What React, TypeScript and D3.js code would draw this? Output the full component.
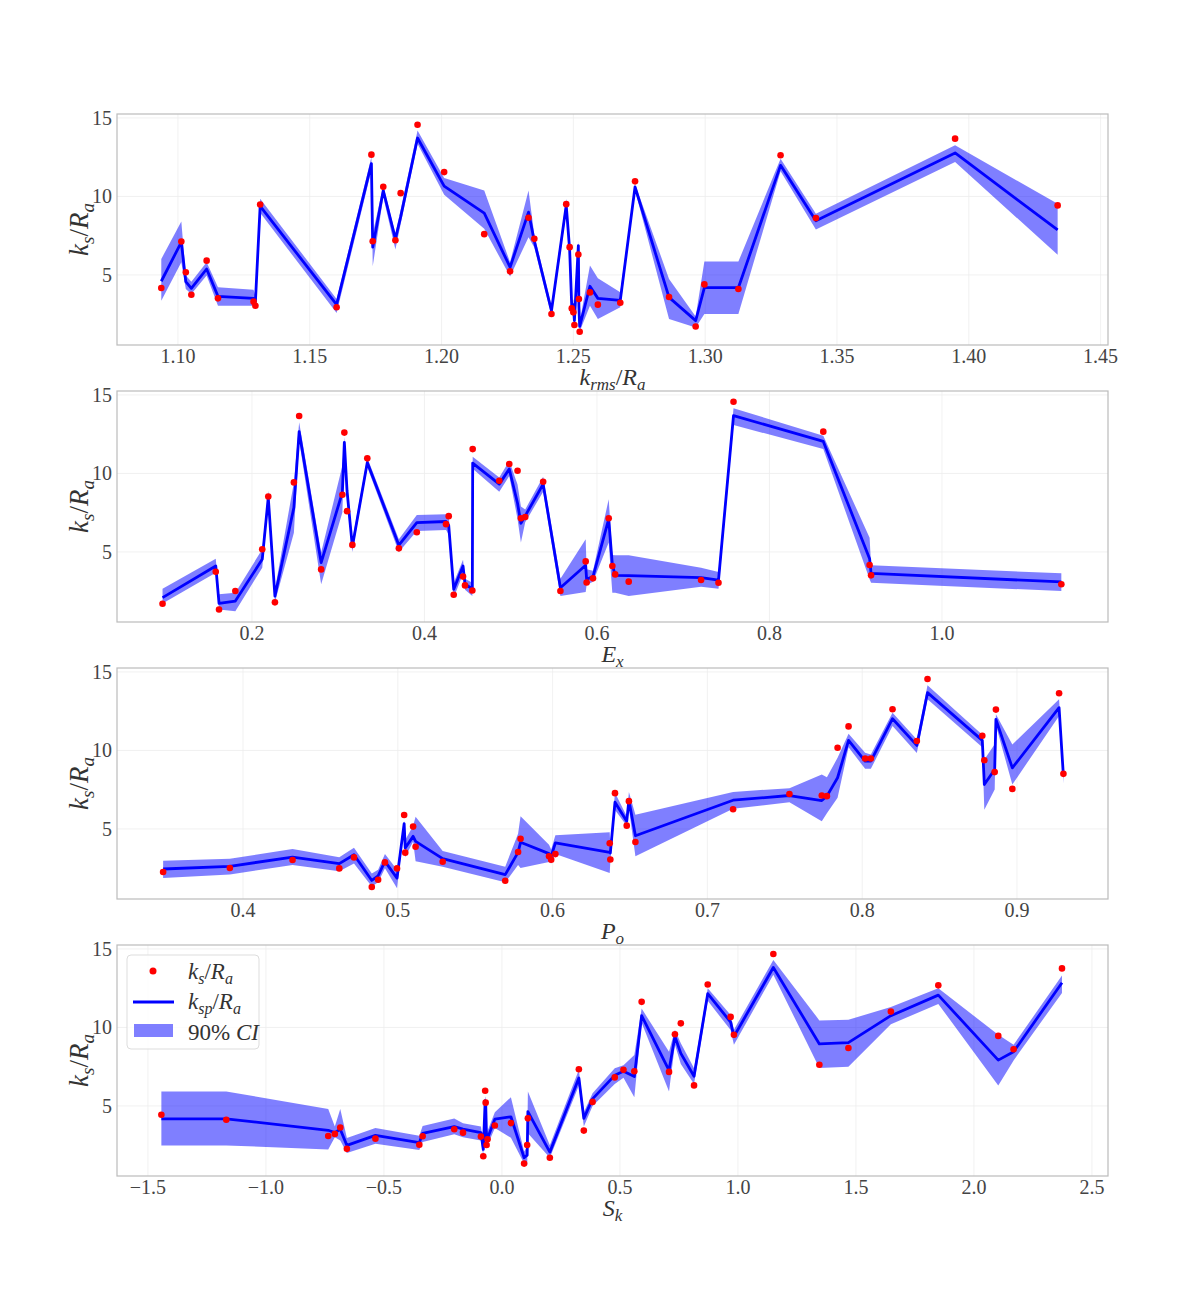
import React from 'react';
import * as d3 from 'd3';

const W = 1196;
const H = 1309;
const LEFT = 117;
const RIGHT = 1108;
const PANEL_TOPS = [114, 391, 668, 945];
const PANEL_H = 231;
const Y_DOMAIN: [number, number] = [0.54, 15.25];
const yTicks = [5, 10, 15];

// ---- Panel 1: k_rms / R_a ----
const krmsX = [1.0937,1.1013,1.1030,1.1051,1.1109,1.1152,1.1287,1.1294,1.1312,1.1602,1.1734,1.1739,1.1779,1.1825,1.1845,1.1909,1.2010,1.2162,1.2260,1.2330,1.2352,1.2417,1.2473,1.2486,1.2494,1.2500,1.2504,1.2519,1.2521,1.2524,1.2563,1.2593,1.2678,1.2734,1.2863,1.2964,1.2997,1.3126,1.3286,1.3420,1.3948,1.4337];
const krmsKs = [4.17,7.13,5.17,3.74,5.91,3.51,3.30,3.04,9.49,2.94,12.66,7.15,10.62,7.21,10.21,14.57,11.55,7.60,5.23,8.64,7.30,2.51,9.51,6.77,2.87,2.62,1.81,6.30,3.47,1.38,3.89,3.11,3.23,10.96,3.60,1.72,4.40,4.11,12.62,8.62,13.68,9.43];
const krmsPred = [4.60,7.09,4.57,4.15,5.38,3.64,3.51,3.30,9.38,3.11,12.09,6.77,10.38,7.30,8.70,13.72,10.66,8.94,5.49,9.00,7.15,2.72,9.43,6.60,2.94,3.10,2.09,6.87,3.04,1.72,4.28,3.51,3.38,10.60,3.57,2.09,4.19,4.19,11.98,8.45,12.77,7.87];
const krmsLo = [3.36,5.81,4.11,3.79,4.96,3.04,3.04,2.83,8.96,2.57,11.66,5.55,9.96,6.62,8.25,13.36,10.11,7.94,4.91,7.40,6.75,2.40,9.00,6.15,2.60,2.75,1.70,6.50,2.70,1.40,3.04,2.19,2.94,10.40,2.19,1.66,2.51,2.51,11.60,7.90,12.20,6.28];
const krmsHi = [6.02,8.40,4.96,4.57,5.81,4.21,4.06,3.64,9.85,3.47,12.51,7.62,10.70,7.62,9.15,14.20,11.17,10.38,5.81,10.38,7.55,3.04,9.85,7.05,3.25,3.45,2.40,7.20,3.40,2.00,5.60,4.79,3.90,10.80,4.74,2.36,5.85,5.85,12.40,8.90,13.26,9.53];
const krmsTicks = [1.10,1.15,1.20,1.25,1.30,1.35,1.40,1.45];

// ---- Panel 2: E_x ----
const exX = [0.0963,0.1580,0.1618,0.1807,0.2119,0.2189,0.2266,0.2486,0.2547,0.2802,0.3048,0.3071,0.3102,0.3164,0.3337,0.3703,0.3911,0.4250,0.4281,0.4339,0.4447,0.4470,0.4555,0.4559,0.4867,0.4983,0.5079,0.5118,0.5168,0.5376,0.5576,0.5869,0.5880,0.5954,0.6136,0.6178,0.6211,0.6368,0.7207,0.7409,0.7583,0.8624,0.9161,0.9178,1.1384];
const exKs = [1.70,3.74,1.34,2.51,5.17,8.53,1.79,9.43,13.66,3.89,8.64,12.60,7.60,5.45,10.96,5.23,6.26,6.77,7.28,2.28,3.43,2.87,2.55,11.55,9.53,10.60,10.17,7.15,7.23,9.47,2.51,4.40,3.06,3.32,7.15,4.11,3.57,3.11,3.21,3.04,14.57,12.66,4.17,3.51,2.94];
const exPred = [2.09,4.11,1.72,1.87,4.53,8.47,2.19,7.83,12.66,4.32,8.79,11.98,8.90,5.34,10.70,5.43,6.87,6.94,6.70,2.62,4.11,2.94,2.66,10.66,9.32,10.28,8.10,6.83,7.30,9.32,2.72,4.15,3.26,3.43,7.09,4.19,3.51,3.49,3.36,3.21,13.68,12.04,4.57,3.64,3.09];
const exLo = [1.72,3.68,1.34,1.23,4.00,8.10,1.79,6.23,12.09,2.94,7.51,11.60,8.40,5.00,10.40,5.00,6.34,6.40,6.10,2.10,3.60,2.60,2.20,10.30,8.83,9.83,7.10,5.60,6.90,8.83,2.19,2.45,2.90,3.10,5.60,2.40,2.40,2.20,2.79,2.66,13.09,11.55,3.26,3.04,2.51];
const exHi = [2.66,4.57,2.30,2.40,5.17,8.90,2.60,9.43,13.26,4.96,10.49,12.30,9.40,5.77,11.00,5.81,7.36,7.40,7.30,3.04,4.50,3.30,3.04,11.06,9.74,10.80,9.30,7.90,7.70,9.79,3.30,5.81,3.90,3.80,8.36,4.80,4.79,4.79,4.00,3.72,14.15,12.40,5.91,4.15,3.64];
const exTicks = [0.2,0.4,0.6,0.8,1.0];

// ---- Panel 3: P_o ----
const poX = [0.3484,0.3915,0.4320,0.4622,0.4717,0.4832,0.4873,0.4917,0.4995,0.5041,0.5048,0.5099,0.5115,0.5290,0.5694,0.5777,0.5793,0.5977,0.5991,0.6018,0.6369,0.6373,0.6403,0.6479,0.6493,0.6535,0.7166,0.7530,0.7739,0.7772,0.7841,0.7912,0.8019,0.8056,0.8196,0.8353,0.8422,0.8776,0.8789,0.8856,0.8864,0.8970,0.9272,0.9300];
const poKs = [2.26,2.51,3.02,2.49,3.19,1.30,1.77,2.87,2.49,5.89,3.49,5.15,3.87,2.91,1.70,3.53,4.38,3.26,3.04,3.40,4.09,3.06,7.28,5.21,6.77,4.17,6.26,7.23,7.13,7.09,10.17,11.53,9.49,9.49,12.62,10.60,14.55,10.94,9.38,8.62,12.60,7.55,13.64,8.51];
const poPred = [2.45,2.62,3.21,2.79,3.36,1.72,2.02,2.94,1.87,5.34,3.79,4.53,4.21,3.11,2.09,3.51,4.15,3.43,3.26,4.11,3.51,3.47,6.70,5.49,6.83,4.57,6.83,7.13,6.81,7.09,8.26,10.64,9.32,9.32,12.02,10.32,13.68,10.64,7.83,8.79,11.98,8.89,12.72,8.36];
const poLo = [1.87,2.10,2.70,2.30,2.80,1.34,1.60,2.50,1.23,5.10,3.20,4.20,2.94,2.60,1.60,2.70,2.51,2.90,2.80,3.40,2.19,2.90,6.20,5.20,6.30,3.26,6.28,6.70,5.49,6.00,6.98,10.20,8.83,8.83,11.55,9.83,13.26,10.20,6.23,7.51,11.60,7.83,12.20,7.90];
const poHi = [2.98,3.10,3.72,3.20,3.80,2.17,2.40,3.40,2.40,5.50,4.30,5.20,5.77,3.60,2.60,4.70,5.81,4.00,3.70,4.60,4.79,3.90,7.30,5.81,7.36,5.91,7.36,7.60,8.47,8.30,9.53,11.06,9.85,9.74,12.40,10.70,14.15,11.00,9.43,10.40,12.30,10.38,13.26,8.60];
const poTicks = [0.4,0.5,0.6,0.7,0.8,0.9];

// ---- Panel 4: S_k ----
const skX = [-1.443,-1.168,-0.736,-0.708,-0.685,-0.657,-0.536,-0.350,-0.336,-0.202,-0.165,-0.089,-0.079,-0.071,-0.069,-0.065,-0.061,-0.030,0.038,0.094,0.107,0.110,0.203,0.326,0.347,0.384,0.478,0.515,0.561,0.592,0.708,0.733,0.758,0.814,0.872,0.969,0.983,1.150,1.345,1.468,1.648,1.849,2.103,2.168,2.373];
const skKs = [4.44,4.12,3.09,3.22,3.63,2.27,2.92,2.53,3.07,3.52,3.30,3.05,1.80,5.97,5.21,2.51,2.88,3.76,3.91,1.33,2.51,4.21,1.70,7.34,3.43,5.26,6.82,7.30,7.21,11.63,7.17,9.57,10.26,6.31,12.73,10.67,9.53,14.68,7.62,8.69,11.01,12.68,9.46,8.61,13.76];
const skPred = [4.18,4.18,3.45,3.30,3.52,2.49,3.13,2.66,3.26,3.69,3.52,3.30,2.23,5.34,5.30,2.88,2.94,4.16,4.31,1.70,1.87,4.64,2.06,6.78,4.21,5.45,6.95,7.21,6.87,10.75,7.27,9.42,8.35,6.89,12.15,10.34,9.42,13.82,8.95,9.03,10.75,12.06,7.92,8.45,12.85];
const skLo = [2.49,2.49,2.23,3.00,2.80,2.00,2.60,2.20,2.70,3.20,3.00,2.80,1.80,5.10,5.10,2.50,2.50,3.60,2.98,1.34,1.23,3.26,1.70,6.30,3.70,5.00,6.40,6.80,5.56,10.30,5.92,8.90,7.67,6.40,11.70,9.83,8.90,13.36,7.42,7.50,10.20,11.50,6.31,7.90,12.20];
const skHi = [5.92,5.92,4.81,3.70,4.81,2.96,3.60,3.10,3.72,4.20,3.90,3.70,2.60,5.50,5.60,3.20,3.40,4.60,5.56,2.10,2.40,5.92,2.50,7.30,4.60,5.81,7.40,7.60,8.24,11.20,8.45,9.85,9.00,7.40,12.50,10.80,9.85,14.30,10.45,10.49,11.30,12.50,9.53,8.90,13.30];
const skTicks = [-1.5,-1.0,-0.5,0.0,0.5,1.0,1.5,2.0,2.5];

type Part = { t: string; it?: boolean; sub?: boolean };

const LBL_KS: Part[] = [{ t: 'k', it: true }, { t: 's', it: true, sub: true }, { t: '/' }, { t: 'R', it: true }, { t: 'a', it: true, sub: true }];
const LBL_KSP: Part[] = [{ t: 'k', it: true }, { t: 'sp', it: true, sub: true }, { t: '/' }, { t: 'R', it: true }, { t: 'a', it: true, sub: true }];
const LBL_KRMS: Part[] = [{ t: 'k', it: true }, { t: 'rms', it: true, sub: true }, { t: '/' }, { t: 'R', it: true }, { t: 'a', it: true, sub: true }];
const LBL_EX: Part[] = [{ t: 'E', it: true }, { t: 'x', it: true, sub: true }];
const LBL_PO: Part[] = [{ t: 'P', it: true }, { t: 'o', it: true, sub: true }];
const LBL_SK: Part[] = [{ t: 'S', it: true }, { t: 'k', it: true, sub: true }];
const LBL_CI: Part[] = [{ t: '90% ' }, { t: 'CI', it: true }];

const FONT = "'Liberation Serif', 'DejaVu Serif', serif";

function MathText({ parts, x, y, size, anchor = 'start', transform, fill = '#333' }: { parts: Part[]; x: number; y: number; size: number; anchor?: string; transform?: string; fill?: string }) {
  const subSize = Math.round(size * 0.7);
  const shift = size * 0.22;
  let inSub = false;
  const spans = parts.map((p, i) => {
    let dy = 0;
    if (p.sub && !inSub) { dy = shift; inSub = true; }
    else if (!p.sub && inSub) { dy = -shift; inSub = false; }
    return (
      <tspan key={i} dy={dy} fontStyle={p.it ? 'italic' : 'normal'} fontSize={p.sub ? subSize : size}>{p.t}</tspan>
    );
  });
  return (
    <text x={x} y={y} fontFamily={FONT} fontSize={size} textAnchor={anchor as any} transform={transform} fill={fill}>{spans}</text>
  );
}

type PanelDef = {
  xs: number[]; ks: number[]; pred: number[]; lo: number[]; hi: number[];
  domain: [number, number]; ticks: number[]; fmt: string; label: Part[];
};

const panels: PanelDef[] = [
  { xs: krmsX, ks: krmsKs, pred: krmsPred, lo: krmsLo, hi: krmsHi, domain: [1.0769, 1.4528], ticks: krmsTicks, fmt: '.2f', label: LBL_KRMS },
  { xs: exX, ks: exKs, pred: exPred, lo: exLo, hi: exHi, domain: [0.0435, 1.1925], ticks: exTicks, fmt: '.1f', label: LBL_EX },
  { xs: poX, ks: poKs, pred: poPred, lo: poLo, hi: poHi, domain: [0.3186, 0.9588], ticks: poTicks, fmt: '.1f', label: LBL_PO },
  { xs: skX, ks: skKs, pred: skPred, lo: skLo, hi: skHi, domain: [-1.631, 2.568], ticks: skTicks, fmt: '.1f', label: LBL_SK },
];

function Panel({ def, top, legend }: { def: PanelDef; top: number; legend: boolean }) {
  const bottom = top + PANEL_H;
  const x = d3.scaleLinear().domain(def.domain).range([LEFT, RIGHT]);
  const y = d3.scaleLinear().domain(Y_DOMAIN).range([bottom, top]);
  const idx = def.xs.map((_, i) => i);
  const area = d3.area<number>().x(i => x(def.xs[i])).y0(i => y(def.lo[i])).y1(i => y(def.hi[i]));
  const line = d3.line<number>().x(i => x(def.xs[i])).y(i => y(def.pred[i]));
  const f = d3.format(def.fmt);
  const clipId = `clip${top}`;
  return (
    <g>
      <defs>
        <clipPath id={clipId}><rect x={LEFT} y={top} width={RIGHT - LEFT} height={PANEL_H} /></clipPath>
      </defs>
      <rect x={LEFT} y={top} width={RIGHT - LEFT} height={PANEL_H} fill="#ffffff" />
      {def.ticks.map(t => (
        <line key={'gx' + t} x1={x(t)} x2={x(t)} y1={top} y2={bottom} stroke="#eeeeee" strokeWidth={0.8} />
      ))}
      {yTicks.map(t => (
        <line key={'gy' + t} x1={LEFT} x2={RIGHT} y1={y(t)} y2={y(t)} stroke="#eeeeee" strokeWidth={0.8} />
      ))}
      <g clipPath={`url(#${clipId})`}>
        <path d={area(idx) || ''} fill="#0000ff" fillOpacity={0.5} stroke="none" />
        <path d={line(idx) || ''} fill="none" stroke="#0000ff" strokeWidth={2.8} strokeLinejoin="round" />
        {idx.map(i => (
          <circle key={i} cx={x(def.xs[i])} cy={y(def.ks[i])} r={3.3} fill="#ff0000" />
        ))}
      </g>
      <rect x={LEFT} y={top} width={RIGHT - LEFT} height={PANEL_H} fill="none" stroke="#bbbbbb" strokeWidth={1.2} />
      {def.ticks.map(t => (
        <text key={'tx' + t} x={x(t)} y={bottom + 18} textAnchor="middle" fontFamily={FONT} fontSize={20} fill="#444">{f(t)}</text>
      ))}
      {yTicks.map(t => (
        <text key={'ty' + t} x={LEFT - 5} y={y(t) + 7} textAnchor="end" fontFamily={FONT} fontSize={20} fill="#444">{t}</text>
      ))}
      <MathText parts={def.label} x={(LEFT + RIGHT) / 2} y={bottom + 40} size={24} anchor="middle" />
      <MathText parts={LBL_KS} x={0} y={0} size={27} anchor="middle" transform={`translate(88,${top + PANEL_H / 2}) rotate(-90)`} />
      {legend && (
        <g>
          <rect x={127} y={955} width={132} height={94} rx={4} fill="#ffffff" fillOpacity={0.8} stroke="#dddddd" strokeWidth={1} />
          <circle cx={153} cy={971} r={3.5} fill="#ff0000" />
          <MathText parts={LBL_KS} x={188} y={979} size={23} />
          <line x1={133} x2={174} y1={1002} y2={1002} stroke="#0000ff" strokeWidth={2.8} />
          <MathText parts={LBL_KSP} x={188} y={1009} size={23} />
          <rect x={134} y={1024} width={39} height={13} fill="#0000ff" fillOpacity={0.5} />
          <MathText parts={LBL_CI} x={188} y={1040} size={23} />
        </g>
      )}
    </g>
  );
}

export default function App() {
  return (
    <svg width={W} height={H} viewBox={`0 0 ${W} ${H}`} style={{ position: 'absolute', left: 0, top: 0, background: '#ffffff' }}>
      <rect x={0} y={0} width={W} height={H} fill="#ffffff" />
      {panels.map((p, i) => (
        <Panel key={i} def={p} top={PANEL_TOPS[i]} legend={i === 3} />
      ))}
    </svg>
  );
}
